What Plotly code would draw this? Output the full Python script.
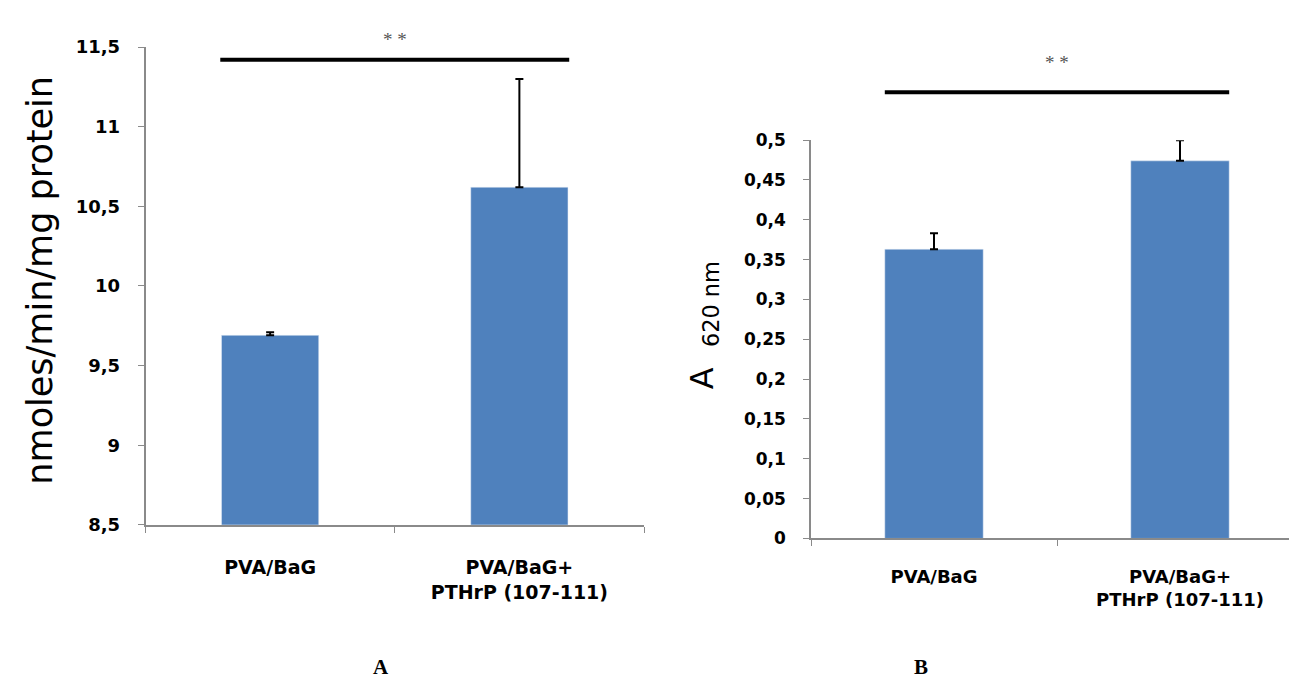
import plotly.graph_objects as go

# ---- data ----
categories = ["PVA/BaG", "PVA/BaG+<br>PTHrP (107-111)"]
left_values = [9.69, 10.62]
left_errors = [0.02, 0.68]
right_values = [0.363, 0.474]
right_errors = [0.02, 0.026]
left_ticks = [8.5, 9, 9.5, 10, 10.5, 11, 11.5]
right_ticks = [0, 0.05, 0.1, 0.15, 0.2, 0.25, 0.3, 0.35, 0.4, 0.45, 0.5]
left_sig_level = 11.42
right_sig_level = 0.56
left_star_level = 11.55
right_star_level = 0.597
left_title = "nmoles/min/mg protein"
right_title = "A\u00a0\u00a0<sub>620 nm</sub>"
sig_text = "* *"
panel_letters = ["A", "B"]

W, H = 1297, 679
BAR_COLOR = "#4F81BD"
AXIS_COLOR = "#8a8a8a"

fig = go.Figure()

fig.add_trace(go.Bar(
    x=categories, y=left_values, width=0.39, marker_color=BAR_COLOR,
    xaxis="x", yaxis="y",
    error_y=dict(type="data", array=left_errors, arrayminus=[0] * len(left_errors),
                 symmetric=False, color="black", thickness=2, width=4),
    showlegend=False,
))
fig.add_trace(go.Bar(
    x=categories, y=right_values, width=0.40, marker_color=BAR_COLOR,
    xaxis="x2", yaxis="y2",
    error_y=dict(type="data", array=right_errors, arrayminus=[0] * len(right_errors),
                 symmetric=False, color="black", thickness=2, width=4),
    showlegend=False,
))

catfont_l = dict(family="DejaVu Sans", size=19, color="black", weight="bold")
catfont_r = dict(family="DejaVu Sans", size=18, color="black", weight="bold")

common_x = dict(type="category", showline=True, linecolor=AXIS_COLOR, linewidth=1.5,
                ticks="outside", tickson="boundaries", ticklen=6, tickcolor=AXIS_COLOR,
                showgrid=False, zeroline=False, range=[-0.5, 1.5])
common_y = dict(showline=True, linecolor=AXIS_COLOR, linewidth=1.5, ticks="outside",
                ticklen=6, tickcolor=AXIS_COLOR, showgrid=False, zeroline=False)

fig.update_layout(
    width=W, height=H,
    margin=dict(l=0, r=0, t=0, b=0),
    paper_bgcolor="white", plot_bgcolor="white",
    separators=",.",
    xaxis=dict(**common_x, domain=[137.5 / W, 636 / W], anchor="y",
               tickfont=catfont_l, ticklabelstandoff=25),
    yaxis=dict(**common_y, domain=[1 - 522 / H, 1 - 29 / H], anchor="x",
               range=[left_ticks[0], left_ticks[-1]], tickvals=left_ticks,
               tickfont=dict(family="DejaVu Sans", size=18, color="black", weight="bold"),
               ticklabelstandoff=14),
    xaxis2=dict(**common_x, domain=[803 / W, 1295 / W], anchor="y2",
                tickfont=catfont_r, ticklabelstandoff=21),
    yaxis2=dict(**common_y, domain=[1 - 536 / H, 1 - 125 / H], anchor="x2",
                range=[right_ticks[0], right_ticks[-1]], tickvals=right_ticks,
                tickfont=dict(family="DejaVu Sans", size=17, color="black", weight="bold"),
                ticklabelstandoff=14),
)


def cat_to_domain(v):
    return (v + 0.5) / 2.0


def ydom(v, ticks):
    return (v - ticks[0]) / (ticks[-1] - ticks[0])


# significance lines (domain refs so they are not clipped)
fig.add_shape(type="line", xref="x domain", yref="y domain",
              x0=cat_to_domain(-0.2), x1=cat_to_domain(1.2),
              y0=ydom(left_sig_level, left_ticks), y1=ydom(left_sig_level, left_ticks),
              line=dict(color="black", width=4))
fig.add_shape(type="line", xref="x2 domain", yref="y2 domain",
              x0=cat_to_domain(-0.2), x1=cat_to_domain(1.2),
              y0=ydom(right_sig_level, right_ticks), y1=ydom(right_sig_level, right_ticks),
              line=dict(color="black", width=4))

# asterisks
fig.add_annotation(text=sig_text, xref="x domain", yref="y domain",
                   x=cat_to_domain(0.5), y=ydom(left_star_level, left_ticks),
                   xanchor="center", yanchor="middle",
                   showarrow=False, font=dict(family="Liberation Serif", size=19, color="#555"))
fig.add_annotation(text=sig_text, xref="x2 domain", yref="y2 domain",
                   x=cat_to_domain(0.5), y=ydom(right_star_level, right_ticks),
                   xanchor="center", yanchor="middle",
                   showarrow=False, font=dict(family="Liberation Serif", size=19, color="#555"))

# axis titles
fig.add_annotation(text=left_title, xref="paper", yref="paper", x=32 / W, y=1 - 270 / H,
                   xanchor="center", yanchor="middle", textangle=-90, showarrow=False,
                   font=dict(family="DejaVu Sans", size=35, color="black"))
fig.add_annotation(text=right_title, xref="paper", yref="paper", x=696 / W, y=1 - 316 / H,
                   xanchor="center", yanchor="middle", textangle=-90, showarrow=False,
                   font=dict(family="DejaVu Sans", size=32, color="black"))

# panel letters
fig.add_annotation(text="<b>" + panel_letters[0] + "</b>", xref="paper", yref="paper",
                   x=373 / W, y=1 - 669 / H, xanchor="center", yanchor="middle",
                   showarrow=False, font=dict(family="Liberation Serif", size=21, color="black"))
fig.add_annotation(text="<b>" + panel_letters[1] + "</b>", xref="paper", yref="paper",
                   x=913 / W, y=1 - 669 / H, xanchor="center", yanchor="middle",
                   showarrow=False, font=dict(family="Liberation Serif", size=21, color="black"))

fig.write_html("out.html")
